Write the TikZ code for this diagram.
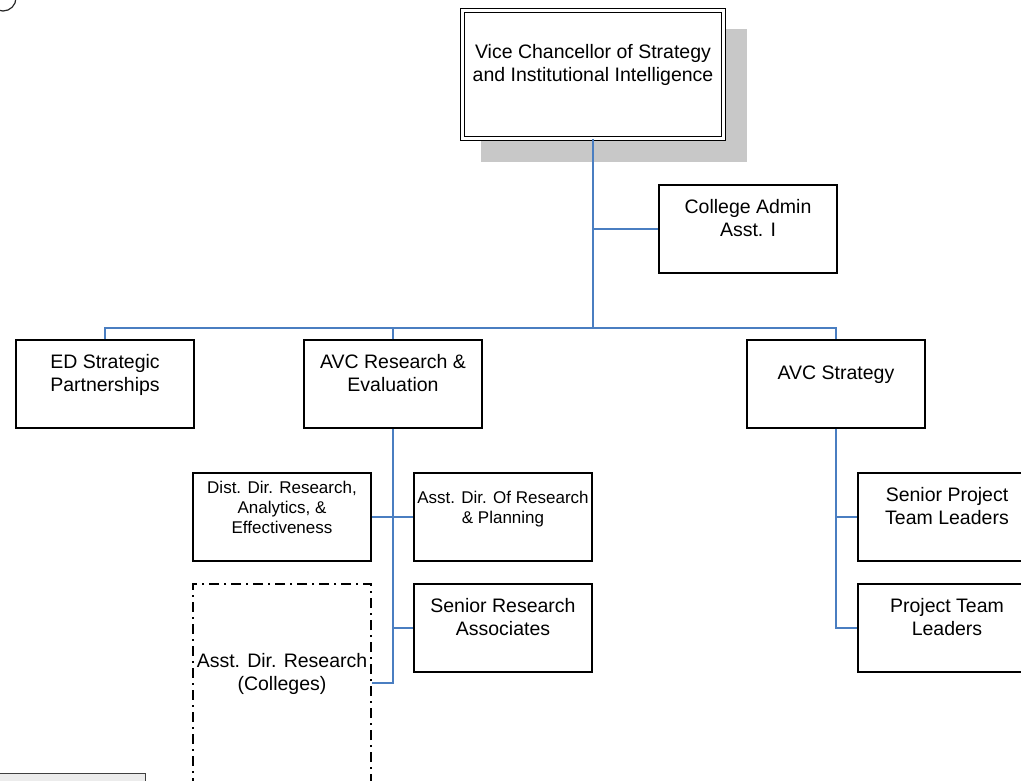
\documentclass[tikz,border=0pt]{standalone}
\usepackage{fontspec}
\setmainfont{Liberation Sans}
\usetikzlibrary{shadows}
\definecolor{linkblue}{RGB}{74,126,193}
\definecolor{shadowgray}{RGB}{200,200,200}
\definecolor{keygray}{RGB}{236,236,236}
\begin{document}
\begin{tikzpicture}[x=1pt, y=-1pt,
  unit/.style={draw, line width=1.5pt, fill=white, align=center, inner sep=0pt,
    minimum width=178pt, minimum height=88pt, font=\fontsize{19.5}{23}\selectfont},
  small/.style={font=\fontsize{17}{20}\selectfont},
  link/.style={draw=linkblue, line width=1.6pt}]
\useasboundingbox (0,0) rectangle (1021,781);
\clip (0,0) rectangle (1021,781);
\node[unit, double, double distance=2.5pt, line width=1.2pt, minimum width=261pt, minimum height=128pt,
  drop shadow={shadow xshift=21pt, shadow yshift=-21pt, fill=shadowgray, draw=shadowgray, line width=5pt, opacity=1}]
  (vc) at (593,74.5) {Vice Chancellor of Strategy\\and Institutional Intelligence\\~};
\node[unit] (admin) at (748,229) {College Admin\\Asst. I\\~};
\node[unit] (ed) at (105,384) {ED Strategic\\Partnerships\\~};
\node[unit] (avcr) at (393,384) {AVC Research \&\\Evaluation\\~};
\node[unit] (avcs) at (836,384) {AVC Strategy\\~};
\node[unit, small] (dist) at (282,517) {Dist. Dir. Research,\\Analytics, \&\\Effectiveness\\~};
\node[unit, small] (asst) at (503,517) {Asst. Dir. Of Research\\\& Planning\\~};
\node[unit] (sra) at (503,628) {Senior Research\\Associates\\~};
\node[unit, dash pattern=on 10pt off 5pt on 2pt off 5pt, minimum height=198pt]
  (coll) at (282,683) {Asst. Dir. Research\\(Colleges)\\~};
\node[unit] (sptl) at (947,517) {Senior Project\\Team Leaders\\~};
\node[unit] (ptl) at (947,628) {Project Team\\Leaders\\~};
\node[draw=black!75, fill=keygray, line width=1pt, minimum width=165pt, minimum height=37pt] (key) at (62.5,791.5) {};
\node[circle, draw=black!85, line width=1.2pt, minimum size=26pt, inner sep=0pt] (mark) at (3,-2) {};
\coordinate (bus) at (593,328);
% reporting lines
\draw[link] (vc.south) -- (bus);
\draw[link] (vc.south |- admin.west) -- (admin.west);
\draw[link] (ed.north) |- (bus) -| (avcs.north);
\draw[link] (avcr.north) -- (avcr.north |- bus);
\draw[link] (avcr.south) |- (coll.east);
\draw[link] (avcr.south |- dist.east) -- (dist.east);
\draw[link] (avcr.south |- asst.west) -- (asst.west);
\draw[link] (avcr.south |- sra.west) -- (sra.west);
\draw[link] (avcs.south) |- (ptl.west);
\draw[link] (avcs.south |- sptl.west) -- (sptl.west);
\end{tikzpicture}
\end{document}
